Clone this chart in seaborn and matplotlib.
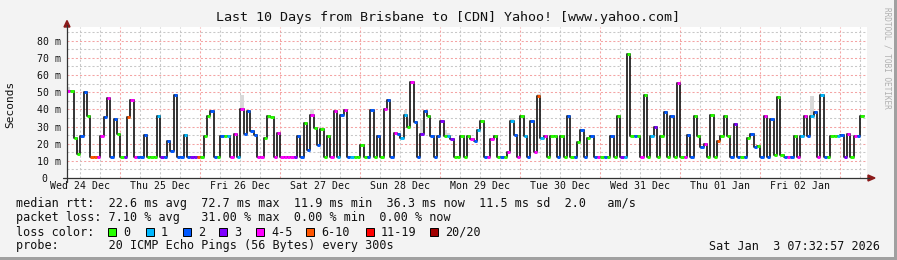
import numpy as np
import pandas as pd
import matplotlib
matplotlib.use("Agg")
import matplotlib.pyplot as plt
import seaborn as sns
from matplotlib.patches import Rectangle, Polygon
from matplotlib.lines import Line2D
from matplotlib.transforms import ScaledTranslation

# ---------------- data (hourly median RTT in ms, loss class per hour) ----------------
median_ms = [
    50.5, 50.5, 23.2, 14.0, 24.2, 50.0, 36.0, 12.0, 12.0, 12.0,
    24.6, 35.3, 46.8, 12.0, 34.5, 25.8, 12.0, 12.0, 35.3, 45.2,
    12.0, 12.0, 12.0, 25.2, 12.0, 12.0, 12.0, 36.3, 12.0, 12.0,
    21.3, 16.0, 48.1, 12.0, 12.0, 24.8, 12.0, 12.0, 12.0, 12.0,
    12.0, 24.2, 36.3, 38.8, 12.0, 12.0, 24.6, 24.2, 24.2, 12.0,
    25.8, 12.0, 40.0, 25.8, 38.8, 27.1, 25.2, 12.0, 12.0, 23.6,
    36.0, 35.3, 12.0, 26.5, 12.0, 12.0, 12.0, 12.0, 12.0, 24.2,
    12.0, 31.8, 16.6, 36.5, 29.1, 19.3, 28.5, 12.0, 24.6, 12.0,
    38.8, 12.0, 36.5, 39.8, 12.0, 12.0, 12.0, 12.0, 19.3, 12.0,
    12.0, 39.4, 12.0, 24.6, 12.0, 40.5, 45.2, 12.0, 26.1, 25.6,
    23.6, 36.8, 30.0, 55.7, 32.4, 12.0, 25.8, 38.8, 36.0, 24.6,
    12.0, 24.6, 33.0, 24.2, 24.2, 22.6, 12.0, 12.0, 24.2, 12.0,
    24.2, 22.6, 21.8, 28.1, 33.0, 12.0, 12.0, 22.6, 24.2, 12.0,
    12.0, 12.0, 15.4, 33.5, 25.2, 12.0, 36.3, 24.2, 12.0, 33.0,
    15.4, 48.0, 23.6, 24.2, 12.0, 24.2, 24.2, 12.0, 24.6, 12.0,
    36.0, 12.0, 12.0, 20.7, 28.1, 12.0, 23.6, 24.2, 12.0, 12.0,
    12.0, 12.0, 12.0, 24.2, 12.0, 36.3, 12.0, 12.0, 72.5, 24.2,
    24.2, 24.6, 12.0, 48.5, 12.0, 24.2, 30.0, 12.0, 24.2, 38.2,
    12.0, 36.0, 12.0, 55.1, 12.0, 12.0, 25.2, 12.0, 36.3, 24.2,
    17.8, 19.9, 12.0, 36.8, 12.0, 21.3, 24.2, 36.3, 24.2, 12.0,
    31.6, 12.0, 12.0, 12.0, 23.6, 25.8, 17.8, 18.8, 12.0, 36.3,
    12.0, 34.5, 13.5, 47.0, 13.5, 12.0, 12.0, 12.0, 24.2, 12.0,
    24.2, 36.3, 24.2, 36.0, 38.2, 12.0, 48.1, 12.0, 12.0, 24.2,
    24.6, 24.2, 25.2, 12.0, 25.6, 12.0, 24.6, 24.2, 36.3,
]
loss_class = [
    4, 0, 0, 0, 2, 2, 0, 5, 5, 4,
    4, 2, 4, 2, 2, 0, 0, 3, 5, 4,
    4, 2, 2, 2, 0, 0, 0, 1, 3, 2,
    2, 2, 2, 2, 2, 1, 2, 3, 3, 5,
    0, 0, 0, 2, 2, 0, 2, 0, 1, 4,
    4, 1, 4, 2, 2, 2, 2, 4, 4, 0,
    0, 0, 4, 4, 4, 4, 4, 4, 3, 2,
    2, 0, 2, 4, 0, 2, 0, 0, 0, 4,
    4, 1, 2, 4, 2, 1, 0, 0, 0, 0,
    2, 2, 0, 2, 0, 4, 2, 2, 4, 2,
    1, 1, 0, 4, 2, 2, 3, 2, 0, 2,
    2, 2, 3, 0, 1, 3, 0, 0, 0, 0,
    0, 4, 2, 1, 0, 2, 4, 4, 0, 0,
    2, 0, 4, 1, 2, 4, 0, 1, 2, 2,
    4, 5, 1, 4, 0, 0, 0, 2, 0, 0,
    2, 0, 2, 0, 2, 2, 0, 2, 2, 4,
    0, 2, 0, 2, 0, 0, 3, 1, 0, 0,
    2, 0, 4, 0, 0, 1, 3, 0, 0, 2,
    0, 2, 0, 4, 0, 4, 2, 2, 0, 0,
    2, 4, 0, 0, 0, 5, 0, 0, 0, 2,
    3, 2, 0, 2, 0, 2, 2, 0, 2, 4,
    2, 2, 0, 0, 0, 2, 4, 2, 0, 4,
    1, 4, 2, 1, 2, 4, 1, 2, 0, 0,
    0, 1, 2, 3, 4, 0, 4, 2, 0,
]
# smoke (spread of pings) visible above the median in some hours
smoke_hour = [0, 3, 52, 73, 101, 102, 106, 113, 114, 133, 141, 223]
smoke_top = [52.8, 16.4, 48.5, 40.2, 39.4, 34.9, 33.9, 28.1, 26.5, 34.9, 48.9, 47.5]

loss_labels = ["0", "1", "2", "3", "4-5", "6-10", "11-19", "20/20"]
loss_colors = ["#26ff00", "#00b8ff", "#0059ff", "#7e00ff", "#ff00ff",
               "#ff5500", "#ff0000", "#a10000"]
day_labels = ["Wed 24 Dec", "Thu 25 Dec", "Fri 26 Dec", "Sat 27 Dec", "Sun 28 Dec",
              "Mon 29 Dec", "Tue 30 Dec", "Wed 31 Dec", "Thu 01 Jan", "Fri 02 Jan"]
first_midnight_h = 16.0   # hours from left edge to first midnight
y_ticks = [0, 10, 20, 30, 40, 50, 60, 70, 80]

title = "Last 10 Days from Brisbane to [CDN] Yahoo! [www.yahoo.com]"
stat_lines = [
    "median rtt:  22.6 ms avg  72.7 ms max  11.9 ms min  36.3 ms now  11.5 ms sd  2.0   am/s",
    "packet loss: 7.10 % avg   31.00 % max  0.00 % min  0.00 % now",
]
probe_line = "probe:       20 ICMP Echo Pings (56 Bytes) every 300s"
stamp = "Sat Jan  3 07:32:57 2026"

# ---------------- figure ----------------
W, H = 897, 260
sns.set_theme(style="white")
plt.rcParams["font.family"] = ["DejaVu Sans Mono"]
fig = plt.figure(figsize=(W / 100, H / 100), dpi=100, facecolor="#f3f3f3")

def fx(px):
    return px / W

def fy(py):
    return 1 - py / H

ax = fig.add_axes([fx(67), fy(178), fx(800), 151 / H])
ax.set_facecolor("white")
ax.set_xlim(0, 240)
ax.set_ylim(0, 88)

# grid
grid_gray = "#c8c8c8"
grid_red = "#f4a3a3"
dash = (0, (2, 2))
for v in np.arange(5, 88, 10):
    ax.axhline(v, color=grid_gray, lw=0.75, ls=dash, zorder=0)
for v in np.arange(10, 88, 10):
    ax.axhline(v, color=grid_red, lw=0.75, ls=dash, zorder=0)
mid = np.arange(first_midnight_h, 240, 24)
for v in np.arange(first_midnight_h - 12, 240, 6):
    if not np.any(np.isclose(v, mid)) and v > 0:
        ax.axvline(v, color=grid_gray, lw=0.75, ls=dash, zorder=0)
for v in mid:
    ax.axvline(v, color=grid_red, lw=0.75, ls=dash, zorder=0)

hours = np.arange(len(median_ms))
vals = np.array(median_ms)

# smoke
sm_base = vals[smoke_hour]
ax.bar(smoke_hour, np.array(smoke_top) - sm_base, bottom=sm_base, width=1.0,
       align="edge", color="#d9d9d9", edgecolor="none", zorder=1)

# black step line
df = pd.DataFrame({"hour": np.append(hours, len(vals)),
                   "rtt": np.append(vals, vals[-1])})
sns.lineplot(data=df, x="hour", y="rtt", drawstyle="steps-post", color="#1a1a1a",
             lw=1.25, ax=ax, estimator=None, zorder=2)

# loss-coloured median segments
ax.hlines(vals, hours, hours + 1, colors=[loss_colors[c] for c in loss_class],
          lw=2.1, zorder=3, capstyle="butt")

# ticks
ax.set_yticks(y_ticks)
ax.set_yticklabels([f"{v} m" if v else "0" for v in y_ticks], fontsize=7.1)
ax.set_xticks(np.arange(first_midnight_h - 12, 240, 24)[:len(day_labels)])
ax.set_xticklabels(day_labels, fontsize=7.1)
ax.tick_params(axis="y", length=0, pad=4.3, colors="#111111")
ax.tick_params(axis="x", length=0, pad=2.2, colors="#111111")
ax.set_xlabel("")
ax.set_ylabel("")
for s in ax.spines.values():
    s.set_visible(False)
fig.canvas.draw()
zero_lab = ax.get_yticklabels()[0]
zero_lab.set_transform(zero_lab.get_transform() +
                       ScaledTranslation(-0.14, 0, fig.dpi_scale_trans))

# axis lines and arrows
axis_col = "#333333"
arrow_col = "#8b1a1a"
fig.add_artist(Line2D([fx(63), fx(869)], [fy(178), fy(178)], color=axis_col, lw=0.9))
fig.add_artist(Line2D([fx(67), fx(67)], [fy(182), fy(25)], color=axis_col, lw=0.9))
fig.add_artist(Polygon([[fx(868), fy(175)], [fx(875), fy(178)], [fx(868), fy(181)]],
                       closed=True, color=arrow_col, transform=fig.transFigure))
fig.add_artist(Polygon([[fx(64), fy(27)], [fx(67), fy(20.5)], [fx(70), fy(27)]],
                       closed=True, color=arrow_col, transform=fig.transFigure))

# texts
txt = "#111111"
fig.text(fx(448), fy(18), title, ha="center", va="center", fontsize=9.6, color=txt)
fig.text(fx(10), fy(104), "Seconds", rotation=90, ha="center", va="center",
         fontsize=8.0, color=txt)
fig.text(fx(887), fy(58), "RRDTOOL / TOBI OETIKER", rotation=270, ha="center",
         va="center", fontsize=5.6, color="#b0b0b0")
fig.text(fx(16), fy(204), stat_lines[0], ha="left", va="center", fontsize=8.5, color=txt)
fig.text(fx(16), fy(218), stat_lines[1], ha="left", va="center", fontsize=8.5, color=txt)
fig.text(fx(16), fy(232), "loss color:", ha="left", va="center", fontsize=8.5, color=txt)
fig.text(fx(16), fy(246), probe_line, ha="left", va="center", fontsize=8.5, color=txt)
fig.text(fx(880), fy(246), stamp, ha="right", va="center", fontsize=8.5, color=txt)

box_x = [108, 146, 183, 219, 256, 306, 366, 430]
for bx, lab, col in zip(box_x, loss_labels, loss_colors):
    fig.add_artist(Rectangle((fx(bx), fy(236)), fx(8), 8 / H, facecolor=col,
                             edgecolor="#000000", lw=0.7, transform=fig.transFigure))
    fig.text(fx(bx + 15), fy(232), lab, ha="left", va="center", fontsize=8.5, color=txt)

# 3D frame
fig.add_artist(Rectangle((0, 0), 1, fy(257), facecolor="#a0a0a0", edgecolor="none",
                         transform=fig.transFigure))
fig.add_artist(Rectangle((fx(894), 0), fx(3), 1, facecolor="#a0a0a0", edgecolor="none",
                         transform=fig.transFigure))

fig.savefig("out.png", dpi=100, facecolor=fig.get_facecolor())
